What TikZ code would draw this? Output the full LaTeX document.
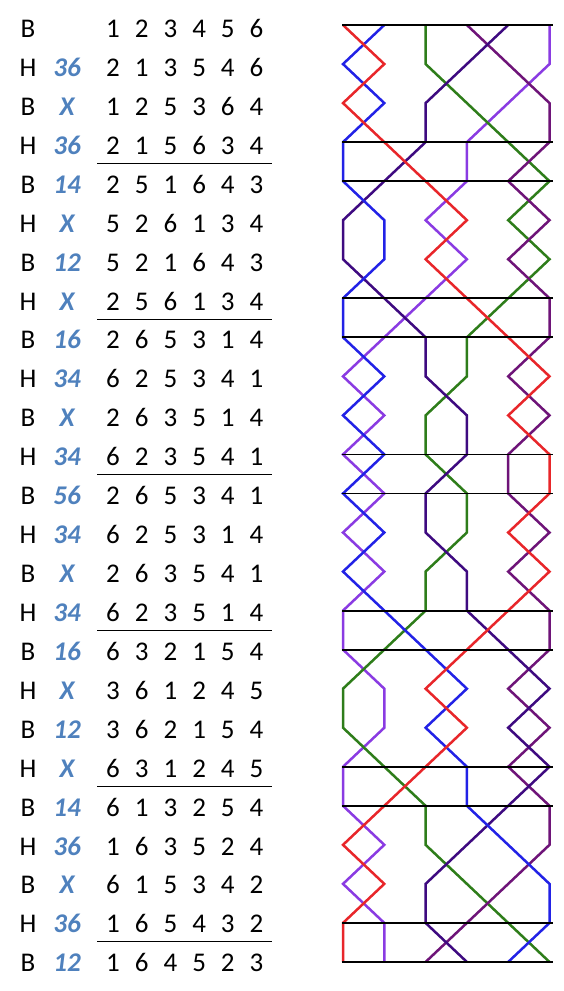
\documentclass[tikz,border=0pt]{standalone}
\usepackage{fontspec}
\setmainfont{Carlito}
\definecolor{bellred}{HTML}{E8262A}
\definecolor{bellblue}{HTML}{2222E6}
\definecolor{bellgreen}{HTML}{2E7D1A}
\definecolor{bellindigo}{HTML}{3E0A80}
\definecolor{bellpurple}{HTML}{6E1478}
\definecolor{bellviolet}{HTML}{8A3BE2}
\definecolor{notblue}{HTML}{4F81BD}
\tikzset{
  celltext/.style={anchor=base, inner sep=0pt, font=\fontsize{27}{30}\selectfont},
  nottext/.style={celltext, text=notblue, font=\fontsize{27}{30}\selectfont\bfseries\itshape},
  trace/.style={line width=2.5pt, line join=miter},
  leadline/.style={line width=1.8pt, black},
  sepline/.style={line width=1pt, black}
}
\begin{document}
\begin{tikzpicture}[x=1pt,y=1pt]
\useasboundingbox (0,0) rectangle (564,-991);
% ---- table ----
\foreach \r/\s/\n/\a/\b/\c/\d/\e/\f in {
 0/B//1/2/3/4/5/6,
 1/H/36/2/1/3/5/4/6,
 2/B/X/1/2/5/3/6/4,
 3/H/36/2/1/5/6/3/4,
 4/B/14/2/5/1/6/4/3,
 5/H/X/5/2/6/1/3/4,
 6/B/12/5/2/1/6/4/3,
 7/H/X/2/5/6/1/3/4,
 8/B/16/2/6/5/3/1/4,
 9/H/34/6/2/5/3/4/1,
 10/B/X/2/6/3/5/1/4,
 11/H/34/6/2/3/5/4/1,
 12/B/56/2/6/5/3/4/1,
 13/H/34/6/2/5/3/1/4,
 14/B/X/2/6/3/5/4/1,
 15/H/34/6/2/3/5/1/4,
 16/B/16/6/3/2/1/5/4,
 17/H/X/3/6/1/2/4/5,
 18/B/12/3/6/2/1/5/4,
 19/H/X/6/3/1/2/4/5,
 20/B/14/6/1/3/2/5/4,
 21/H/36/1/6/3/5/2/4,
 22/B/X/6/1/5/3/4/2,
 23/H/36/1/6/5/4/3/2,
 24/B/12/1/6/4/5/2/3}{
  \pgfmathsetmacro{\ty}{-(29+38.93*\r)-8.5}
  \node[celltext] (s\r) at (28,\ty) {\s};
  \node[nottext] (n\r) at (67,\ty) {\n};
  \node[celltext] (a\r) at (113,\ty) {\a};
  \node[celltext] (b\r) at (141.7,\ty) {\b};
  \node[celltext] (c\r) at (170.4,\ty) {\c};
  \node[celltext] (d\r) at (199.1,\ty) {\d};
  \node[celltext] (e\r) at (227.8,\ty) {\e};
  \node[celltext] (f\r) at (256.5,\ty) {\f};
}
% separators under rows 3,7,11,15,19,23
\foreach \r in {3,7,11,15,19,23}{
  \pgfmathsetmacro{\ly}{-(29+38.93*\r)-17.5}
  \coordinate (ul\r) at (97,\ly);
  \coordinate (ur\r) at (272,\ly);
  \draw[sepline] (ul\r) -- (ur\r);
}
% ---- bell traces ----
\newcommand{\belltrace}[3]{%
  \draw[trace,#1] ({343+(#2-1)*41.3},-25)
    \foreach \p [count=\q from 1] in {#3} { -- ({343+(\p-1)*41.3},{-(25+39.04*\q)}) };
}
\belltrace{bellviolet}{6}{6,5,4,4,3,4,3,2,1,2,1,2,1,2,1,1,2,2,1,1,2,1,2,2}
\belltrace{bellgreen}{3}{3,4,5,6,5,6,5,4,4,3,3,4,4,3,3,2,1,1,2,3,3,4,5,6}
\belltrace{bellpurple}{4}{5,6,6,5,6,5,6,6,5,6,5,5,6,5,6,6,5,6,5,6,6,5,4,3}
\belltrace{bellindigo}{5}{4,3,3,2,1,1,2,3,3,4,4,3,3,4,4,5,6,5,6,5,4,3,3,4}
\belltrace{bellblue}{2}{1,2,1,1,2,2,1,1,2,1,2,1,2,1,2,3,4,3,4,4,5,6,6,5}
\belltrace{bellred}{1}{2,1,2,3,4,3,4,5,6,5,6,6,5,6,5,4,3,4,3,2,1,2,1,1}
% lead lines
\foreach \r in {0,3,4,7,8,11,12,15,16,19,20,23,24}{
  \pgfmathsetmacro{\hy}{-(25+39.04*\r)}
  \coordinate (hl\r) at (342,\hy);
  \coordinate (hr\r) at (553,\hy);
  \draw[leadline] (hl\r) -- (hr\r);
}
\end{tikzpicture}
\end{document}
